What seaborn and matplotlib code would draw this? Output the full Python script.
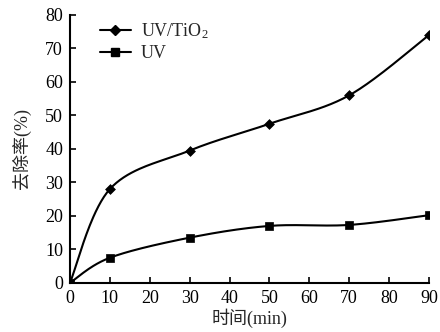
import numpy as np
import pandas as pd
import matplotlib
matplotlib.use("Agg")
import matplotlib.pyplot as plt
import seaborn as sns
from matplotlib.lines import Line2D

time_min = [0, 10, 30, 50, 70, 90]
uv_tio2 = [0, 28, 39.5, 47.5, 56, 74]
uv = [0, 7.5, 13.5, 17, 17.3, 20.2]
series_names = ["UV/TiO$_2$", "UV"]
x_ticks = [0, 10, 20, 30, 40, 50, 60, 70, 80, 90]
y_ticks = [0, 10, 20, 30, 40, 50, 60, 70, 80]

sns.set_style("ticks")
plt.rcParams['font.family'] = ['Liberation Serif', 'Noto Sans CJK SC']
plt.rcParams['mathtext.fontset'] = 'custom'
plt.rcParams['mathtext.rm'] = 'Liberation Serif'
plt.rcParams['mathtext.it'] = 'Liberation Serif'


def smooth(x, y, n=40):
    # Excel-like smoothed line (cardinal spline via Bezier segments)
    x = np.asarray(x, float); y = np.asarray(y, float)
    px, py = [], []
    for i in range(len(x) - 1):
        x0, y0 = (x[i - 1], y[i - 1]) if i > 0 else (x[i], y[i])
        x3, y3 = (x[i + 2], y[i + 2]) if i + 2 < len(x) else (x[i + 1], y[i + 1])
        c1x = x[i] + (x[i + 1] - x0) / 6; c1y = y[i] + (y[i + 1] - y0) / 6
        c2x = x[i + 1] - (x3 - x[i]) / 6; c2y = y[i + 1] - (y3 - y[i]) / 6
        t = np.linspace(0, 1, n)
        bx = (1-t)**3*x[i] + 3*(1-t)**2*t*c1x + 3*(1-t)*t**2*c2x + t**3*x[i+1]
        by = (1-t)**3*y[i] + 3*(1-t)**2*t*c1y + 3*(1-t)*t**2*c2y + t**3*y[i+1]
        px.extend(bx); py.extend(by)
    return np.array(px), np.array(py)


fig = plt.figure(figsize=(4.4, 3.32), dpi=100)
ax = fig.add_axes([0.159, 0.148, 0.816, 0.807])

df = pd.DataFrame({"t": time_min, "a": uv_tio2, "b": uv})
for col, mk, ms in [("a", "D", 5.0), ("b", "s", 5.2)]:
    sx, sy = smooth(df["t"], df[col])
    ax.plot(sx, sy, color="black", lw=1.5)
    sns.scatterplot(x="t", y=col, data=df, ax=ax, marker=mk, color="black",
                    s=ms**2, edgecolor="black", linewidth=0.5, zorder=3, legend=False)

ax.set_xlim(0, 90)
ax.set_ylim(0, 80)
ax.set_xticks(x_ticks)
ax.set_yticks(y_ticks)
ax.tick_params(direction="in", length=4, width=1.2, labelsize=13, pad=5, colors="black")
for s in ["top", "right"]:
    ax.spines[s].set_visible(False)
for s in ["left", "bottom"]:
    ax.spines[s].set_linewidth(1.5)
    ax.spines[s].set_color("black")
ax.set_xlabel("时间(min)", fontsize=13, labelpad=1)
ax.set_ylabel("去除率(%)", fontsize=13, labelpad=10)

handles = [Line2D([], [], color="black", lw=1.5, marker="D", ms=5.0),
           Line2D([], [], color="black", lw=1.5, marker="s", ms=5.2)]
ax.legend(handles, series_names, loc="upper left", bbox_to_anchor=(0.084, 0.975),
          borderaxespad=0, borderpad=0, frameon=False, fontsize=13,
          handlelength=1.7, labelspacing=0.2, handletextpad=0.55)

fig.savefig("out.png", dpi=100)
